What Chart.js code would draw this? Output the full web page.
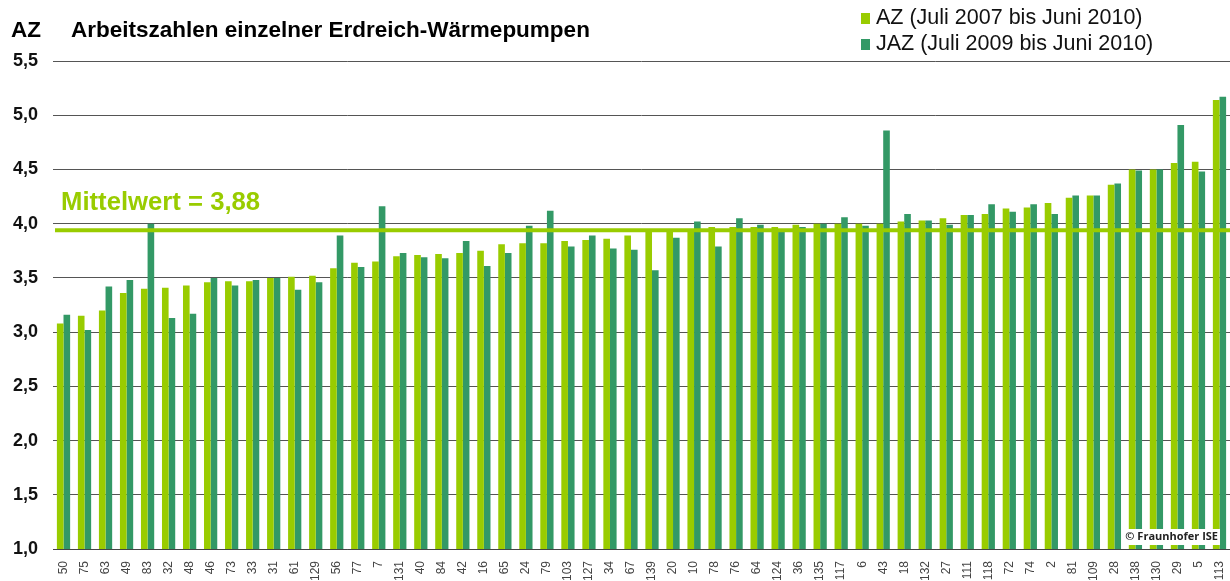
<!DOCTYPE html>
<html>
<head>
<meta charset="utf-8">
<script src="https://cdn.jsdelivr.net/npm/chart.js@4"></script>
<style>
  body { margin: 0; background: #fff; }
  #wrap { position: relative; width: 1230px; height: 581px; }
</style>
</head>
<body>
<div id="wrap"><canvas id="chart"></canvas></div>
<script>
var categories = ['50','75','63','49','83','32','48','46','73','33','31','61','129','56','77','7','131','40','84','42',
    '16','65','24','79','103','127','34','67','139','20','10','78','76','64','124','36','135','117','6','43',
    '18','132','27','111','118','72','74','2','81','109','28','138','130','29','5','113'];

var azValues = [3.08,3.15,3.20,3.36,3.40,3.41,3.43,3.46,3.47,3.47,3.50,3.51,3.52,3.59,3.64,3.65,3.70,3.71,3.72,3.73,
    3.75,3.81,3.82,3.82,3.84,3.85,3.86,3.89,3.94,3.94,3.95,3.97,3.97,3.97,3.97,3.99,4.00,4.00,4.00,4.00,
    4.02,4.03,4.05,4.08,4.09,4.14,4.15,4.19,4.24,4.26,4.36,4.50,4.50,4.56,4.57,5.14];

var jazValues = [3.16,3.02,3.42,3.48,4.00,3.13,3.17,3.50,3.43,3.48,3.50,3.39,3.46,3.89,3.60,4.16,3.73,3.69,3.68,3.84,
    3.61,3.73,3.98,4.12,3.79,3.89,3.77,3.76,3.57,3.87,4.02,3.79,4.05,3.99,3.95,3.97,4.00,4.06,3.98,4.86,
    4.09,4.03,3.99,4.08,4.18,4.11,4.18,4.09,4.26,4.26,4.37,4.49,4.50,4.91,4.48,5.17];

var seriesLabels = ['AZ (Juli 2007 bis Juni 2010)', 'JAZ (Juli 2009 bis Juni 2010)'];
var meanLine = 3.94;   // where the line sits in the picture
var meanText = 'Mittelwert = 3,88';

var light = '#99cc00';
var dark = '#339966';

// title, legend, mean line, copyright
var extras = {
    id: 'extras',
    afterDatasetsDraw: function(chart) {
        var ctx = chart.ctx;
        var area = chart.chartArea;
        var y = chart.scales.y.getPixelForValue(meanLine);
        ctx.save();
        ctx.strokeStyle = light;
        ctx.lineWidth = 4;
        ctx.beginPath();
        ctx.moveTo(area.left + 2, y);
        ctx.lineTo(area.right, y);
        ctx.stroke();
        ctx.fillStyle = light;
        ctx.font = 'bold 25.7px "Liberation Sans", Arial, sans-serif';
        ctx.textBaseline = 'alphabetic';
        ctx.fillText(meanText, 61, y - 20);
        ctx.restore();
    },
    afterDraw: function(chart) {
        var ctx = chart.ctx;
        var area = chart.chartArea;
        ctx.save();
        ctx.fillStyle = '#000';
        ctx.font = 'bold 22.5px "Liberation Sans", Arial, sans-serif';
        ctx.textBaseline = 'alphabetic';
        ctx.fillText('AZ', 11, 37);
        ctx.fillText('Arbeitszahlen einzelner Erdreich-Wärmepumpen', 71, 37);

        // legend
        ctx.font = '21.5px "Liberation Sans", Arial, sans-serif';
        ctx.textBaseline = 'middle';
        chart.data.datasets.forEach(function(ds, i) {
            var ly = 18 + i * 26;
            ctx.fillStyle = ds.backgroundColor;
            ctx.fillRect(861, ly - 5, 9, 11);
            ctx.fillStyle = '#111';
            ctx.fillText(ds.label, 876, ly);
        });

        // copyright box
        ctx.font = 'bold 11px "Open Sans", "Liberation Sans", sans-serif';
        var txt = '\u00a9 Fraunhofer ISE';
        var w = ctx.measureText(txt).width;
        ctx.fillStyle = '#fff';
        ctx.fillRect(area.right - w - 14, area.bottom - 20, w + 4, 16);
        ctx.fillStyle = '#222';
        ctx.fillText(txt, area.right - w - 12, area.bottom - 12);
        ctx.restore();
    }
};

var ctx = document.getElementById('chart');
new Chart(ctx, {
    type: 'bar',
    data: {
        labels: categories,
        datasets: [
            { label: seriesLabels[0], data: azValues, backgroundColor: light, borderWidth: 0 },
            { label: seriesLabels[1], data: jazValues, backgroundColor: dark, borderWidth: 0 }
        ]
    },
    options: {
        responsive: true,
        maintainAspectRatio: false,
        animation: false,
        categoryPercentage: 0.63,
        barPercentage: 1.0,
        layout: { padding: { top: 61, right: 0, left: 0, bottom: 0 } },
        plugins: {
            legend: { display: false },
            title: { display: false },
            tooltip: { enabled: false }
        },
        scales: {
            x: {
                grid: { display: false },
                border: { display: true, color: '#444', width: 1 },
                ticks: {
                    minRotation: 90,
                    maxRotation: 90,
                    autoSkip: false,
                    padding: 4,
                    color: '#444',
                    font: { family: '"Liberation Sans", Arial, sans-serif', size: 12 }
                },
                afterFit: function(scale) {
                    scale.height = 32;
                    scale.paddingLeft = 0;
                    scale.paddingRight = 0;
                }
            },
            y: {
                min: 1,
                max: 5.5,
                grid: { color: '#555', lineWidth: 1, drawTicks: false },
                border: { display: false },
                ticks: {
                    stepSize: 0.5,
                    padding: 15,
                    color: '#111',
                    font: { family: '"Liberation Sans", Arial, sans-serif', size: 18, weight: 'bold' },
                    callback: function(v) { return v.toFixed(1).replace('.', ','); }
                },
                afterFit: function(scale) { scale.width = 53; }
            }
        }
    },
    plugins: [extras]
});
</script>
</body>
</html>
